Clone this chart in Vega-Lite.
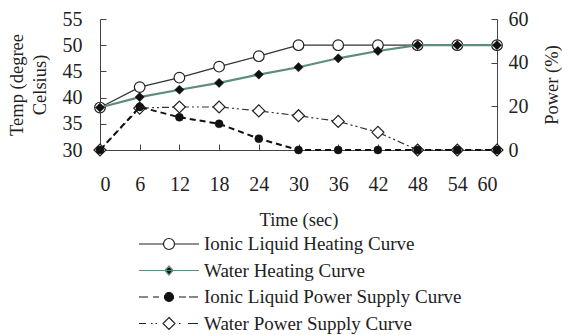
{
  "$schema": "https://vega.github.io/schema/vega-lite/v6.json",
  "width": 397,
  "height": 131,
  "autosize": "none",
  "padding": {"left": 100, "top": 19, "right": 65, "bottom": 185},
  "background": "white",
  "config": {
    "view": {"stroke": null},
    "font": "Liberation Serif",
    "axis": {
      "labelFont": "Liberation Serif",
      "titleFont": "Liberation Serif",
      "labelFontSize": 20,
      "titleFontSize": 18.5,
      "titleFontWeight": "normal",
      "labelColor": "#222",
      "titleColor": "#222",
      "domainColor": "#444",
      "tickColor": "#444",
      "grid": false,
      "tickSize": -6
    },
    "legend": {
      "labelFont": "Liberation Serif",
      "labelFontSize": 19,
      "labelColor": "#222",
      "labelLimit": 400
    }
  },
  "data": {
    "values": [
      {"t": 0, "ionic_heat": 38.1, "water_heat": 38.1, "ionic_power": 0, "water_power": 0},
      {"t": 6, "ionic_heat": 42.0, "water_heat": 40.1, "ionic_power": 19.7, "water_power": 19.2},
      {"t": 12, "ionic_heat": 43.8, "water_heat": 41.5, "ionic_power": 15.0, "water_power": 19.7},
      {"t": 18, "ionic_heat": 45.9, "water_heat": 42.8, "ionic_power": 12.0, "water_power": 19.7},
      {"t": 24, "ionic_heat": 47.9, "water_heat": 44.4, "ionic_power": 5.2, "water_power": 17.9},
      {"t": 30, "ionic_heat": 50, "water_heat": 45.8, "ionic_power": 0, "water_power": 15.7},
      {"t": 36, "ionic_heat": 50, "water_heat": 47.5, "ionic_power": 0, "water_power": 13.1},
      {"t": 42, "ionic_heat": 50, "water_heat": 48.9, "ionic_power": 0, "water_power": 8.1},
      {"t": 48, "ionic_heat": 50, "water_heat": 50, "ionic_power": 0, "water_power": 0},
      {"t": 54, "ionic_heat": 50, "water_heat": 50, "ionic_power": 0, "water_power": 0},
      {"t": 60, "ionic_heat": 50, "water_heat": 50, "ionic_power": 0, "water_power": 0}
    ]
  },
  "encoding": {
    "x": {
      "field": "t",
      "type": "quantitative",
      "scale": {"domain": [0, 60], "nice": false, "zero": false},
      "axis": {
        "values": [0, 6, 12, 18, 24, 30, 36, 42, 48, 54, 60],
        "title": "Time (sec)",
        "labelPadding": 30,
        "titlePadding": 16
      }
    }
  },
  "layer": [
    {
      "encoding": {
        "y": {
          "type": "quantitative",
          "scale": {"domain": [30, 55], "nice": false, "zero": false},
          "axis": {
            "orient": "left",
            "values": [30, 35, 40, 45, 50, 55],
            "title": ["Temp (degree", "Celsius)"],
            "titleLineHeight": 23,
            "labelPadding": 24,
            "titlePadding": 13
          }
        }
      },
      "layer": [
        {
          "mark": {"type": "line", "color": "#333", "strokeWidth": 1.2,
            "point": {"shape": "circle", "size": 113, "filled": true, "fill": "white", "stroke": "#222", "strokeWidth": 1.2}},
          "encoding": {"y": {"field": "ionic_heat", "type": "quantitative"}}
        },
        {
          "mark": {"type": "line", "color": "#5e8c7f", "strokeWidth": 2.2,
            "point": {"shape": "diamond", "size": 85, "filled": true, "fill": "#111", "stroke": "#111", "strokeWidth": 0.5}},
          "encoding": {"y": {"field": "water_heat", "type": "quantitative"}}
        }
      ]
    },
    {
      "encoding": {
        "y": {
          "type": "quantitative",
          "scale": {"domain": [0, 60], "nice": false},
          "axis": {
            "orient": "right",
            "values": [0, 20, 40, 60],
            "title": "Power (%)",
            "titleAngle": 270,
            "labelPadding": 17,
            "titlePadding": 33
          }
        }
      },
      "layer": [
        {
          "mark": {"type": "line", "color": "#333", "strokeWidth": 1.2, "strokeDash": [7, 3, 2, 3, 2, 3],
            "point": {"shape": "diamond", "size": 144, "filled": true, "fill": "white", "stroke": "#222", "strokeWidth": 1.2}},
          "encoding": {"y": {"field": "water_power", "type": "quantitative"}}
        },
        {
          "mark": {"type": "line", "color": "#111", "strokeWidth": 2, "strokeDash": [6, 4],
            "point": {"shape": "circle", "size": 64, "filled": true, "fill": "#111", "stroke": "#111", "strokeWidth": 0.5}},
          "encoding": {"y": {"field": "ionic_power", "type": "quantitative"}}
        }
      ]
    },
    {
      "data": {
        "values": [
          {"series": "Ionic Liquid Heating Curve"},
          {"series": "Water Heating Curve"},
          {"series": "Ionic Liquid Power Supply Curve"},
          {"series": "Water Power Supply Curve"}
        ]
      },
      "transform": [{"filter": "datum.series == 'none'"}],
      "mark": {"type": "point"},
      "encoding": {
        "x": {"value": 0},
        "y": {"value": 0},
        "shape": {
          "field": "series",
          "type": "nominal",
          "scale": {
            "domain": ["Ionic Liquid Heating Curve", "Water Heating Curve", "Ionic Liquid Power Supply Curve", "Water Power Supply Curve"],
            "range": [
              "M-3,0H-0.55M0.55,0H3M0.55,0A0.55,0.55,0,1,1,-0.55,0A0.55,0.55,0,1,1,0.55,0Z",
              "M-3,0H3M0,-0.45L0.4,0L0,0.45L-0.4,0Z",
              "M-3,0H-2.1M-1.6,0H-1M1,0H1.7M2,0H2.9M0.45,0A0.45,0.45,0,1,1,-0.45,0A0.45,0.45,0,1,1,0.45,0Z",
              "M-3,0H-2.3M-1.8,0H-1.65M-1.35,0H-1.2M1.0,0H1.15M1.9,0H2.9M0,-0.6L0.6,0L0,0.6L-0.6,0Z"
            ]
          },
          "legend": {
            "title": null,
            "orient": "none",
            "legendX": 58,
            "legendY": 214,
            "symbolSize": 400,
            "symbolStrokeWidth": 1.2,
            "symbolOpacity": 1,
            "rowPadding": 5.5,
            "labelOffset": 24
          }
        },
        "fill": {
          "field": "series",
          "type": "nominal",
          "scale": {
            "domain": ["Ionic Liquid Heating Curve", "Water Heating Curve", "Ionic Liquid Power Supply Curve", "Water Power Supply Curve"],
            "range": ["white", "#111", "#111", "white"]
          }
        },
        "stroke": {
          "field": "series",
          "type": "nominal",
          "scale": {
            "domain": ["Ionic Liquid Heating Curve", "Water Heating Curve", "Ionic Liquid Power Supply Curve", "Water Power Supply Curve"],
            "range": ["#222", "#5e8c7f", "#111", "#222"]
          }
        }
      }
    }
  ],
  "resolve": {"scale": {"y": "independent"}}
}
